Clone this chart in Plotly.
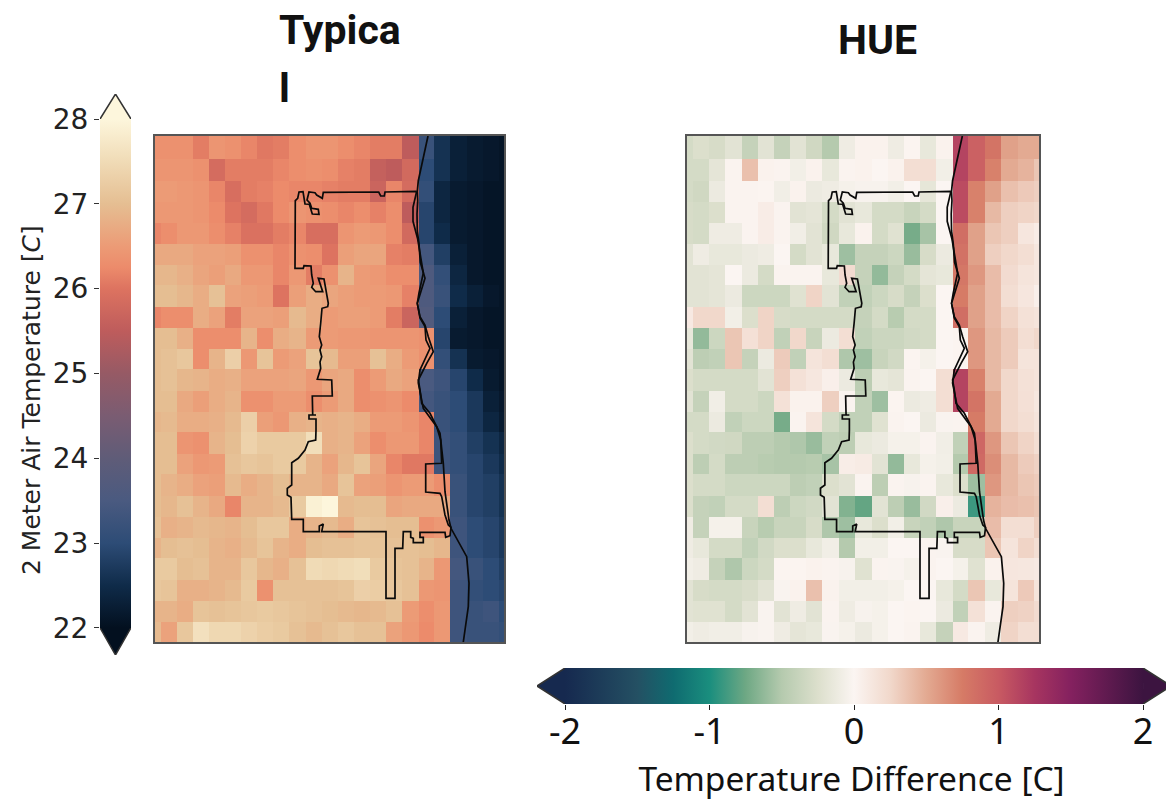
import plotly.graph_objects as go

W, H = 1166, 803

# map units: distance from the south-west corner of the map frame
x_edges = [0, 5.7, 21.7, 37.7, 54.3, 70.3, 86.3, 102.3, 118.3, 134.3, 151, 167, 183, 199, 215, 231, 247,
           263.7, 279, 295, 311.7, 328.3, 344.3, 349]
y_edges = [0, 20.3, 41, 61.7, 83.7, 104.3, 125, 146.3, 167.7, 188.3, 209.7, 230.3, 251, 272.7, 293.3, 314,
           335.3, 356.7, 377.3, 398, 418.7, 440, 461.3, 482.7, 506]

# rows run north to south
typical_rows = [
 [26.35,26.35,26.35,26.1,26.4,26.35,26.2,26.05,26.1,26.3,26.4,26.4,26.3,26.2,26.1,26.1,25.5,23.2,22.6,22.3,22.2,22.15,22.1],
 [26.4,26.4,26.4,26.35,25.85,26.1,26.1,26.1,26.2,26.3,26.35,26.3,26.15,26.1,25.6,25.5,25.8,23.0,22.6,22.3,22.2,22.15,22.1],
 [26.5,26.5,26.45,26.4,26.2,25.9,26.1,26.15,26.25,26.2,26.2,26.15,26.1,26.1,25.7,26.2,25.85,23.1,22.4,22.2,22.15,22.1,22.1],
 [26.45,26.45,26.45,26.4,26.25,26.0,25.85,26.05,26.25,26.4,26.35,26.3,26.2,26.3,26.15,26.3,25.5,22.9,22.4,22.2,22.15,22.1,22.1],
 [26.2,26.3,26.45,26.45,26.3,26.15,25.95,25.95,26.1,26.2,25.9,25.9,26.4,26.5,26.45,26.3,25.8,22.9,22.5,22.2,22.15,22.1,22.1],
 [26.7,26.7,26.7,26.6,26.6,26.55,26.35,26.35,26.2,26.35,26.3,26.0,26.55,26.65,26.65,26.15,26.1,23.4,22.8,22.3,22.15,22.1,22.1],
 [26.9,26.9,26.8,26.65,26.55,26.7,26.45,26.45,26.2,26.45,26.1,26.35,26.85,26.5,26.45,26.3,26.3,23.6,23.1,22.4,22.15,22.1,22.1],
 [27.0,27.0,26.9,26.75,27.05,26.6,26.55,26.5,26.0,26.55,26.75,26.65,26.55,26.5,26.5,26.45,26.15,23.6,23.2,22.5,22.3,22.15,22.1],
 [26.2,26.3,26.3,26.75,26.6,26.1,26.6,26.6,26.55,26.95,26.75,26.5,26.55,26.55,26.5,26.1,25.7,23.7,23.0,22.3,22.15,22.1,22.1],
 [27.0,27.0,26.8,26.3,26.3,26.3,26.85,26.3,26.75,26.85,26.5,26.5,26.45,26.45,26.4,26.4,26.4,26.35,22.9,22.2,22.15,22.1,22.1],
 [27.0,27.05,27.15,26.3,26.85,27.3,26.45,27.1,26.5,26.6,27.1,26.95,26.55,26.55,27.05,26.75,26.5,26.35,23.1,22.6,22.2,22.15,22.1],
 [27.0,27.05,26.9,26.85,26.75,26.8,26.6,26.6,26.6,26.65,26.45,26.65,26.7,26.3,26.5,26.7,26.6,23.5,23.3,22.9,22.5,22.2,22.1],
 [27.0,27.0,26.7,26.55,26.75,26.85,26.35,26.35,26.5,26.5,26.3,26.5,26.7,26.3,26.35,26.4,26.25,23.4,23.2,23.0,22.7,22.3,22.15],
 [26.9,26.95,26.75,26.75,26.8,26.95,27.3,26.55,26.45,26.8,26.85,26.8,26.85,26.75,26.5,26.5,26.4,26.2,23.2,23.0,22.7,22.4,22.2],
 [27.0,27.0,26.4,26.35,26.85,27.0,27.35,27.2,27.2,27.2,27.55,26.8,26.85,26.6,26.3,26.45,26.45,26.2,23.3,23.1,22.8,22.6,22.4],
 [27.0,27.0,26.6,26.45,26.5,27.05,27.15,27.1,27.2,27.2,26.85,26.6,26.9,27.1,26.65,26.2,26.05,26.05,23.3,23.1,22.9,22.7,22.5],
 [27.0,26.85,26.75,26.6,26.55,26.95,26.75,26.85,27.0,26.85,26.85,26.7,27.1,26.6,26.55,26.4,26.5,26.5,26.3,23.2,22.9,22.8,22.6],
 [27.0,26.9,27.05,26.85,26.7,26.2,26.85,26.85,26.95,27.2,27.9,28.0,26.95,27.0,27.0,26.65,26.7,26.7,26.7,23.2,22.9,22.8,22.6],
 [27.05,26.8,26.85,26.95,26.9,26.85,27.0,27.15,27.15,26.75,26.85,26.95,26.75,27.1,27.05,27.0,27.0,26.35,26.45,23.3,23.0,22.9,22.7],
 [26.85,27.0,27.05,27.0,26.85,26.8,26.95,27.1,26.85,26.75,27.0,27.05,27.05,27.1,27.1,27.05,27.05,27.0,26.9,23.3,23.0,22.9,22.7],
 [27.2,27.2,27.0,27.05,26.85,26.85,27.15,26.9,26.8,27.05,27.5,27.45,27.5,27.55,27.2,27.1,27.05,26.85,26.45,23.4,23.2,23.0,22.8],
 [27.15,27.1,26.8,26.8,26.85,26.95,27.2,26.35,27.05,27.05,27.05,27.05,27.1,27.3,27.25,27.15,27.05,26.45,26.4,23.3,23.1,23.0,22.9],
 [26.85,26.85,26.75,27.1,27.05,27.1,27.15,27.2,27.15,27.1,27.05,27.0,26.95,26.9,26.95,27.05,26.5,26.3,26.45,23.3,23.2,23.3,23.0],
 [26.95,26.6,27.15,27.6,27.45,27.45,27.35,27.25,27.2,27.05,26.95,27.05,27.15,27.05,27.05,26.6,26.45,26.25,26.45,23.3,23.2,23.2,23.1],
]

hue_rows = [
 [-0.3,-0.25,-0.28,-0.2,-0.4,-0.2,-0.4,-0.2,-0.33,-0.5,-0.1,0.03,0.03,-0.1,0.01,-0.15,0.03,1.15,0.95,0.8,0.55,0.5,0.5],
 [-0.3,-0.3,-0.18,0.02,0.38,0.03,0.02,-0.07,0.03,-0.15,0.02,0.03,0,0.03,0.2,0.2,-0.07,1.15,0.95,0.72,0.5,0.45,0.35],
 [-0.3,-0.33,-0.12,0.02,0.02,0.01,-0.08,0.03,-0.12,-0.1,-0.05,-0.03,-0.03,-0.07,0,-0.17,0,1.1,0.72,0.55,0.38,0.33,0.3],
 [-0.28,-0.3,-0.25,0.02,0.02,0.08,0.02,-0.2,-0.18,-0.3,-0.2,-0.15,-0.3,-0.3,-0.38,-0.3,0,1.1,0.72,0.42,0.3,0.27,0.25],
 [-0.28,-0.3,-0.1,-0.1,0.02,0.08,0.02,-0.08,-0.2,-0.33,-0.15,0.03,-0.3,-0.22,-0.72,-0.55,0,0.85,0.55,0.35,0.3,0.13,0.08],
 [-0.2,-0.1,-0.15,-0.15,-0.12,-0.1,0,-0.3,-0.2,-0.15,-0.58,-0.4,-0.4,-0.35,-0.6,-0.28,-0.12,0.82,0.55,0.3,0.25,0.2,0.12],
 [-0.2,-0.2,-0.18,0,-0.12,-0.3,0.02,0.02,0.02,-0.15,0.22,-0.4,-0.62,-0.4,-0.3,-0.18,-0.15,0.78,0.6,0.4,0.22,0.15,0.12],
 [-0.2,-0.2,-0.18,-0.12,-0.35,-0.35,-0.35,-0.22,0.27,-0.2,-0.42,-0.42,-0.35,-0.28,-0.4,-0.25,0,0.75,0.55,0.4,0.2,0.13,0.05],
 [0.1,0.25,0.25,-0.07,-0.25,0.27,-0.28,-0.3,-0.3,-0.3,-0.3,-0.4,-0.3,-0.48,-0.3,-0.3,0,0.85,0.55,0.4,0.27,0.17,0.15],
 [-0.15,-0.62,-0.35,0.35,0.18,0.27,-0.42,0.25,-0.38,-0.12,0.2,-0.42,-0.36,-0.36,-0.32,-0.3,0,0.01,0.6,0.42,0.32,0.2,0.25],
 [-0.2,-0.45,-0.42,0.35,-0.4,-0.12,0.32,-0.42,0.15,0.2,-0.52,-0.58,-0.38,-0.32,0.01,-0.05,0,0.01,0.6,0.42,0.32,0.15,0.15],
 [-0.25,-0.3,-0.3,-0.3,-0.3,-0.2,0.3,0.17,0.12,0.05,-0.12,-0.45,-0.15,-0.18,0.02,0,0.2,1.15,0.72,0.42,0.25,0.17,0.15],
 [-0.2,-0.4,-0.08,-0.3,-0.3,-0.35,0.17,0.03,0.03,0.3,0.02,-0.42,-0.58,0.01,-0.12,-0.1,0.2,1.15,0.8,0.5,0.25,0.18,0.12],
 [-0.3,-0.3,-0.12,-0.42,-0.35,-0.35,-0.72,0.02,0.15,-0.3,-0.42,-0.42,-0.22,0.02,0,-0.12,-0.02,0.02,0.75,0.5,0.25,0.2,0.15],
 [-0.25,-0.3,-0.32,-0.33,-0.45,-0.45,-0.5,-0.52,-0.6,-0.42,-0.45,-0.15,-0.12,-0.05,-0.05,0.02,-0.08,-0.42,0.9,0.6,0.35,0.27,0.2],
 [-0.25,-0.45,-0.3,-0.45,-0.45,-0.48,-0.5,-0.5,-0.48,-0.55,0.07,0.09,-0.2,-0.62,-0.15,-0.05,-0.07,-0.5,0.88,0.65,0.42,0.32,0.28],
 [-0.25,-0.3,-0.3,-0.35,-0.35,-0.35,-0.35,-0.45,-0.42,-0.25,-0.2,0.02,-0.45,0.02,-0.03,0.02,-0.15,-0.25,-0.58,0.6,0.42,0.35,0.32],
 [-0.25,-0.4,-0.42,-0.3,-0.3,0.2,-0.45,-0.35,-0.32,-0.2,-0.68,-0.78,-0.2,-0.45,-0.6,-0.32,0.05,-0.12,-0.9,0.45,0.4,0.38,0.35],
 [-0.1,-0.4,-0.05,-0.05,-0.38,-0.48,-0.38,-0.38,-0.28,-0.52,-0.58,-0.15,-0.25,-0.07,-0.38,-0.42,-0.52,-0.38,-0.38,0.4,0.2,0.2,0.3],
 [-0.1,-0.15,-0.3,-0.3,-0.42,-0.32,-0.25,-0.25,-0.15,-0.08,-0.5,-0.07,-0.07,0,0,0.02,-0.02,-0.28,-0.28,0.35,0.15,0.27,0.2],
 [-0.07,-0.1,-0.4,-0.52,-0.35,-0.3,0.01,0.01,0.03,0.02,-0.03,-0.22,0.02,-0.02,-0.05,0.02,0,-0.05,-0.22,0.03,0.13,0.12,0.1],
 [-0.2,-0.28,-0.3,-0.3,-0.27,-0.2,-0.02,0.03,0.38,0.03,-0.07,-0.07,-0.07,-0.05,0,0,-0.15,-0.3,0.35,-0.15,0.15,0.33,0.15],
 [-0.2,-0.22,-0.22,-0.3,-0.2,-0.02,-0.2,-0.1,-0.2,0.02,-0.1,-0.03,-0.05,0,0.01,0,-0.12,-0.42,0.17,0.02,0.3,0.28,0.22],
 [-0.07,-0.1,-0.08,-0.08,-0.03,-0.02,-0.1,-0.18,-0.15,-0.02,-0.05,-0.12,-0.05,0,0.02,-0.15,-0.4,0.1,0.02,-0.1,0.27,0.2,0.2],
]

# city outline in map units
city_xy = [(261.7,450.7),(230,450),(229.3,446),(225.7,446),(223.7,450),(168.3,449.7),(167.3,443.7),(161.7,447),(160,449.3),
 (154,450),(152,442),(155,438.7),(156.7,433.7),(163.3,432.7),(164,427.7),(157.3,428),(154.3,437.8),(150,438),(148,450.3),
 (144,450),(142.7,443.7),(140.3,441.3),(140,373.7),(148.3,373.7),(149,376.3),(156,376),(156.7,367),(158.3,358.7),(156.7,354.7),
 (160.7,350.3),(167.7,350.3),(163.3,363.7),(169,363),(170.7,352),(173.3,338.7),(172.7,335.3),(167,333.7),(165.7,318.7),
 (164.3,305.3),(166.7,297),(165,292),(166.7,285.3),(165,280),(165.7,273.7),(162.3,262.7),(176.7,262),(177.3,246),(157.3,246),
 (157.7,227),(161,227),(154,227),(154,223),(161,223),(161,212),(160.7,202),(153.3,200.3),(150,192),(143.3,183.7),(136.7,179.3),
 (136.7,157),(132.3,153.7),(132.3,147),(136,144.7),(136.7,122.7),(148.3,122.7),(148.3,110.3),(164.3,110.3),(164.3,116),
 (168.3,118),(166.7,110.3),(231,110.3),(231,43.7),(240,43.7),(240,93.7),(247.7,93.7),(248.3,110.3),(255.7,110.3),(255.7,104.7),
 (258.3,103.7),(258.3,99.3),(268.3,99.3),(268.3,104.7),(265,104.7),(265,109.7),(290,109.7),(290.7,104.7),(295,106.3),(296,114.7),
 (293.3,117),(290,127),(288.3,135.3),(286.7,145.3),(285,148.7),(270.7,150),(270.7,178),(286.7,178.7),(285.7,202),(281.7,215.3),
 (276.7,222),(268.3,233.7),(266,245.3),(263.3,259),(265,272),(275,293.7),(271,302),(270,315.3),(265,324),(262.3,338.7),(264,349),
 (268.3,369),(262.7,403),(258,420.7),(258,434.7),(261.7,450.7)]

# lake shore in map units
shore_xy = [(273,506),(268.3,484.7),(263.3,461.3),(262.3,450.7),(262.7,441.3),(262,428),(262.3,411.3),(264,398),(265.3,379.7),
 (270,363.7),(265,347),(262.3,338.7),(265,325.3),(270,317),(273.3,305.3),(278.3,290.3),(271.7,278.7),(266.7,268.7),(263.3,262),
 (265,252),(266.7,238.7),(275,228.7),(283.3,212),(285,208.7),(288.3,178.7),(290,150.3),(294,122),(296,113.7),(311.7,85.3),
 (314,58.7),(313.3,35.3),(308.3,0)]

temp_stops = [(22,"#03101F"),(22.5,"#0F2B49"),(23,"#2D4C76"),(23.5,"#4A5A80"),(24,"#5F5C78"),(24.5,"#7A5C72"),(25,"#965A65"),
 (25.5,"#BE5C5C"),(26,"#DD7360"),(26.25,"#EC8B6B"),(26.5,"#EC9B76"),(27,"#E5BE92"),(27.5,"#F0DBB6"),(28,"#FDF6DC")]
diff_stops = [(-2,"#16294F"),(-1.5,"#245063"),(-1.25,"#0F6B70"),(-1,"#1A8E7E"),(-0.75,"#6EA884"),(-0.5,"#B5CAAE"),(-0.25,"#DCDFCC"),
 (0,"#FBF5F2"),(0.25,"#F1D8CB"),(0.5,"#E3AA92"),(0.75,"#D67B66"),(1,"#C85A62"),(1.25,"#A73560"),(1.5,"#84215F"),(2,"#3C1440")]

temp_ticks = [22, 23, 24, 25, 26, 27, 28]
diff_ticks = [-2, -1, 0, 1, 2]
diff_labels = ["-2", "-1", "0", "1", "2"]

for rows in (typical_rows, hue_rows):
    assert len(rows) == 24 and all(len(r) == 23 for r in rows)

def scale(stops):
    lo, hi = stops[0][0], stops[-1][0]
    return [[(v - lo) / (hi - lo), c] for v, c in stops]

def dom(a, b, size):
    return [a / size, b / size]

BOLD = "Roboto"
BODY = "Noto Sans"
DEJAVU = "DejaVu Sans"
fig = go.Figure()

# map panels
fig.add_trace(go.Heatmap(x=x_edges, y=y_edges, z=typical_rows[::-1], colorscale=scale(temp_stops), zmin=22, zmax=28,
    xaxis="x", yaxis="y", hoverinfo="skip",
    colorbar=dict(x=100/W, xanchor="left", y=(H-628)/H, yanchor="bottom", len=509/H, lenmode="fraction", thickness=31,
                  thicknessmode="pixels", xpad=0, ypad=0, ticks="", showticklabels=False, outlinewidth=0)))
fig.add_trace(go.Heatmap(x=x_edges, y=y_edges, z=hue_rows[::-1], colorscale=scale(diff_stops), zmin=-2, zmax=2,
    xaxis="x2", yaxis="y2", hoverinfo="skip",
    colorbar=dict(orientation="h", x=565/W, xanchor="left", y=(H-704)/H, yanchor="bottom", len=578/W, lenmode="fraction", thickness=36,
                  thicknessmode="pixels", xpad=0, ypad=0, ticks="", showticklabels=False, outlinewidth=0)))

for xa, ya in (("x", "y"), ("x2", "y2")):
    fig.add_trace(go.Scatter(x=[p[0] for p in shore_xy], y=[p[1] for p in shore_xy], mode="lines", xaxis=xa, yaxis=ya,
                             line=dict(color="#0a0a0a", width=1.7), hoverinfo="skip"))
    fig.add_trace(go.Scatter(x=[p[0] for p in city_xy], y=[p[1] for p in city_xy], mode="lines", xaxis=xa, yaxis=ya,
                             line=dict(color="#0a0a0a", width=1.7), hoverinfo="skip"))

# colour-bar extension triangles and the contour round each bar
def wedge(xs, ys, colour, xa, ya):
    fig.add_trace(go.Scatter(x=xs, y=ys, fill="toself", fillcolor=colour, mode="none", xaxis=xa, yaxis=ya,
                             hoverinfo="skip", cliponaxis=False))

def contour(xs, ys, xa, ya):
    fig.add_trace(go.Scatter(x=xs, y=ys, mode="lines", line=dict(color="#333", width=1.5), xaxis=xa, yaxis=ya,
                             hoverinfo="skip", cliponaxis=False))

wedge([0, 0.5, 1], [28, 28.295, 28], "#FDF6DC", "x3", "y3")
wedge([0, 0.5, 1], [22, 21.68, 22], "#03101F", "x3", "y3")
wedge([-2, -2.194, -2], [0, 0.5, 1], "#16294F", "x4", "y4")
wedge([2, 2.194, 2], [0, 0.5, 1], "#3C1440", "x4", "y4")
contour([0, 0, 0.5, 1, 1, 0.5, 0], [22, 28, 28.295, 28, 22, 21.68, 22], "x3", "y3")
contour([-2, -2.194, -2, 2, 2.194, 2, -2], [0, 0.5, 1, 1, 0.5, 0, 0], "x4", "y4")

frame = dict(showline=True, mirror=True, linecolor="#555", linewidth=1.5, showticklabels=False, ticks="", showgrid=False, zeroline=False)

fig.update_layout(
    width=W, height=H, margin=dict(l=0, r=0, t=0, b=0, pad=0, autoexpand=False), showlegend=False,
    paper_bgcolor="white", plot_bgcolor="white",
    xaxis=dict(domain=dom(155, 504, W), range=[0, 349], anchor="y", **frame),
    yaxis=dict(domain=dom(H-642, H-136, H), range=[0, 506], anchor="x", **frame),
    xaxis2=dict(domain=dom(687, 1039, W), range=[0, 349], anchor="y2", **frame),
    yaxis2=dict(domain=dom(H-642, H-136, H), range=[0, 506], anchor="x2", **frame),
    xaxis3=dict(domain=dom(100, 131, W), range=[0, 1], anchor="y3", visible=False),
    yaxis3=dict(domain=dom(H-655, H-94, H), range=[21.68, 28.295], anchor="x3", side="left", tickmode="array",
                tickvals=temp_ticks, ticks="outside", ticklen=5, tickcolor="#333", showgrid=False, zeroline=False, showline=False,
                tickfont=dict(family=DEJAVU, size=28, color="#222")),
    xaxis4=dict(domain=dom(537, 1166, W), range=[-2.194, 2.159], anchor="y4", side="bottom", tickmode="array",
                tickvals=diff_ticks, ticktext=diff_labels, ticks="outside", ticklen=5, tickcolor="#222", showgrid=False, zeroline=False,
                showline=False, tickfont=dict(family=BODY, size=36, color="#111"), ticklabelstandoff=-9,
                title=dict(text="Temperature Difference [C]", font=dict(family=BODY, size=33.5, color="#111"), standoff=4)),
    yaxis4=dict(domain=dom(H-704, H-668, H), range=[0, 1], anchor="x4", visible=False),
    annotations=[
        dict(text="2 Meter Air Temperature [<i>C</i>]", x=31/W, y=1-400/H, xref="paper", yref="paper", textangle=-90,
             xanchor="center", yanchor="middle", showarrow=False, font=dict(family=DEJAVU, size=25, color="#222")),
        dict(text="<b>Typica</b>", x=277/W, y=1-30/H, xref="paper", yref="paper", xanchor="left", yanchor="middle",
             showarrow=False, font=dict(family=BOLD, size=41, color="#111")),
        dict(text="<b>l</b>", x=277/W, y=1-88/H, xref="paper", yref="paper", xanchor="left", yanchor="middle",
             showarrow=False, font=dict(family=BOLD, size=41, color="#111")),
        dict(text="<b>HUE</b>", x=877/W, y=1-40/H, xref="paper", yref="paper", xanchor="center", yanchor="middle",
             showarrow=False, font=dict(family=BOLD, size=41, color="#111")),
    ],
)

fig.write_html("out.html", config=dict(displayModeBar=False), post_script="document.body.style.margin='0';")
